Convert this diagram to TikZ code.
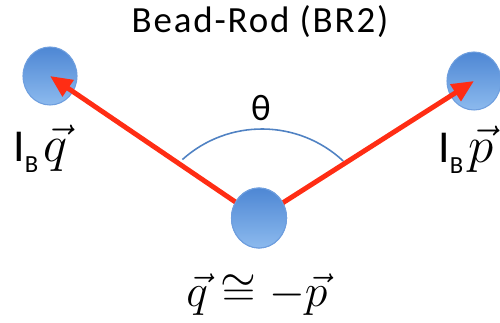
\documentclass[tikz,border=0pt]{standalone}
\usepackage{fontspec}
\setmainfont{Carlito}
\usepackage{amsmath,amssymb}
\usepackage{xcolor}
\usepackage{tikz}
\usetikzlibrary{arrows.meta,positioning,shapes.geometric}
\definecolor{beadtop}{RGB}{78,135,212}
\definecolor{beadbot}{RGB}{140,186,238}
\definecolor{beadline}{RGB}{110,158,222}
\definecolor{rodred}{RGB}{255,45,20}
\definecolor{arcblue}{RGB}{80,130,195}
\newcommand{\lbl}[1]{{\fontsize{26}{30}\selectfont I\raisebox{-6pt}{\fontsize{14}{16}\selectfont B}\hspace{3pt}\scalebox{1.17}{\fontsize{24.88}{30}\selectfont$\vec{#1}$}}}

\begin{document}
\begin{tikzpicture}[
    bead/.style={ellipse, draw=beadline, line width=0.6pt, top color=beadtop, bottom color=beadbot,
        minimum width=1.08cm, minimum height=1.16cm, inner sep=0pt},
    rod/.style={-{Triangle[length=4.4mm, width=3.8mm]}, line width=2.8pt, draw=rodred},
    angle/.style={draw=arcblue, line width=0.9pt}
]
    \useasboundingbox (0,0) rectangle (10,6.44);

    \node[font=\fontsize{21}{24}\selectfont\addfontfeature{LetterSpace=5}, anchor=base] (title) at (5.2,5.78) {Bead-Rod (BR2)};

    % end beads
    \node[bead] (L) at (1.00,4.92) {};
    \node[bead] (R) at (9.48,4.82) {};

    % angle between the rods
    \coordinate (A) at (5.24,1.48);
    \draw[angle] (A) ++(132:2.38cm) arc[start angle=132, end angle=47, radius=2.38cm];
    \node[font=\fontsize{21}{24}\selectfont] (theta) at (5.22,4.28) {θ};

    % rods
    \node[bead, minimum width=1.1cm, minimum height=1.2cm] (C) at (5.18,2.08) {};
    \draw[rod] (C.center) -- (L.center);
    \draw[rod] (C.center) -- (R.center);
    \node[bead, minimum width=1.1cm, minimum height=1.2cm] at (C) {};

    \node[anchor=base west, inner sep=0pt] (Lq) at (0.26,3.2) {\lbl{q}};
    \node[anchor=base west, inner sep=0pt] (Rp) at (8.76,3.18) {\lbl{p}};
    \node[anchor=base, inner sep=0pt] (eq) at (5.14,0.32) {\scalebox{1.05}{\fontsize{24.88}{30}\selectfont$\vec{q}\cong-\vec{p}$}};
\end{tikzpicture}
\end{document}
